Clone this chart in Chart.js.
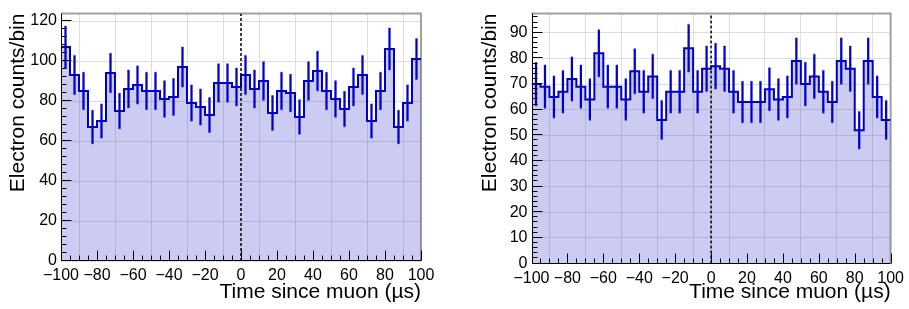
<!DOCTYPE html>
<html>
<head>
<meta charset="utf-8">
<script src="https://cdn.jsdelivr.net/npm/chart.js@4.4.1/dist/chart.umd.min.js"></script>
<style>
  html, body { margin: 0; padding: 0; background: #fff; }
  #wrap { position: relative; width: 909px; height: 309px; }
  canvas { position: absolute; top: 0; }
  #c1 { left: 0; }
  #c2 { left: 455px; }
</style>
</head>
<body>
<div id="wrap">
  <canvas id="c1" width="455" height="309"></canvas>
  <canvas id="c2" width="454" height="309"></canvas>
</div>
<script>
// ---- data ----
const binLowEdges = [-100,-95,-90,-85,-80,-75,-70,-65,-60,-55,-50,-45,-40,-35,-30,-25,-20,-15,-10,-5,
                     0,5,10,15,20,25,30,35,40,45,50,55,60,65,70,75,80,85,90,95];
const binWidth = 5;
const countsLeft  = [107,93,85,67,70,94,75,86,88,85,85,81,82,97,79,77,73,89,89,87,
                     93,86,90,74,85,84,72,90,95,85,81,76,87,93,70,85,106,67,79,101];
const countsRight = [70,69,65,67,72,69,64,82,69,69,64,75,67,73,56,67,67,84,67,76,
                     77,76,67,63,63,63,68,64,65,79,70,73,67,63,79,76,52,79,65,56];
const xTickValues = [-100,-80,-60,-40,-20,0,20,40,60,80,100];
const xTitle = 'Time since muon (\u00b5s)';
const yTitle = 'Electron counts/bin';

const FONT = "'Liberation Sans', Arial, Helvetica, sans-serif";
const LINE = '#0000cc';
const FILL = 'rgba(51,51,204,0.25)';

function histPoints(counts) {
  const pts = counts.map((c, i) => ({x: binLowEdges[i], y: c}));
  pts.push({x: binLowEdges[binLowEdges.length - 1] + binWidth, y: counts[counts.length - 1]});
  return pts;
}
function errBars(counts) {
  return counts.map((c, i) => ({x: binLowEdges[i] + binWidth / 2, y: [c - Math.sqrt(c), c + Math.sqrt(c)]}));
}
function errCaps(counts) {
  const out = [];
  counts.forEach((c, i) => {
    const xc = binLowEdges[i] + binWidth / 2;
    out.push({x: xc, y: c + Math.sqrt(c)});
    out.push({x: xc, y: c - Math.sqrt(c)});
  });
  return out;
}

function rootAxesPlugin(yMinor, yMajor) {
  return {
    id: 'rootAxes',
    beforeDatasetsDraw(chart) {
      const {ctx, chartArea: a} = chart;
      ctx.save();
      ctx.strokeStyle = '#a0a0a0';
      ctx.lineWidth = 2;
      ctx.beginPath();
      ctx.moveTo(a.left, a.top);
      ctx.lineTo(a.right, a.top);
      ctx.lineTo(a.right, a.bottom);
      ctx.stroke();
      ctx.restore();
    },
    afterDatasetsDraw(chart) {
      const {ctx, chartArea: a, scales} = chart;
      const xs = scales.x, ys = scales.y;
      ctx.save();
      ctx.strokeStyle = '#000';
      ctx.lineWidth = 1;
      ctx.beginPath();
      const L = Math.round(a.left) + 0.5, B = Math.round(a.bottom) - 0.5;
      ctx.moveTo(L, a.top);
      ctx.lineTo(L, B);
      ctx.lineTo(a.right, B);
      for (let v = xs.min; v <= xs.max + 1e-9; v += 5) {
        const px = Math.round(xs.getPixelForValue(v)) + 0.5;
        const len = (Math.abs(v) % 20 === 0) ? 10 : 5;
        ctx.moveTo(px, B);
        ctx.lineTo(px, B - len);
      }
      for (let v = 0; v <= ys.max + 1e-9; v += yMinor) {
        const py = Math.round(ys.getPixelForValue(v)) - 0.5;
        const len = (v % yMajor === 0) ? 10 : 5;
        ctx.moveTo(L, py);
        ctx.lineTo(L + len, py);
      }
      ctx.stroke();
      ctx.restore();
    }
  };
}

function makeChart(id, counts, cfg) {
  const ctx = document.getElementById(id);
  return new Chart(ctx, {
    type: 'line',
    data: {
      datasets: [
        { type: 'line', data: errCaps(counts), showLine: false, pointStyle: 'rect',
          pointRadius: 1.3, pointBackgroundColor: 'rgba(40,40,215,0.55)', pointBorderWidth: 0, order: 0 },
        { type: 'bar', data: errBars(counts), backgroundColor: LINE, barThickness: 1.6,
          borderWidth: 0, grouped: false, order: 1 },
        { type: 'line', data: [{x: 0, y: 0}, {x: 0, y: cfg.yMax}], borderColor: '#000',
          borderWidth: 1.5, borderDash: [3, 2], pointRadius: 0, fill: false, order: 2 },
        { type: 'line', data: histPoints(counts), stepped: 'before', borderColor: LINE,
          borderWidth: 2, backgroundColor: FILL, fill: 'origin', pointRadius: 0, order: 3 }
      ]
    },
    options: {
      responsive: false, animation: false, events: [], devicePixelRatio: 1,
      layout: { padding: { left: 0, right: cfg.padRight, top: 5, bottom: 0 } },
      plugins: { legend: { display: false }, tooltip: { enabled: false } },
      scales: {
        x: {
          type: 'linear', min: -100, max: 100, offset: false,
          afterFit(s) { s.height = cfg.xH; },
          afterBuildTicks(s) { s.ticks = xTickValues.map(v => ({value: v})); },
          grid: { color: '#dedede', lineWidth: 1, drawTicks: false },
          border: { display: false },
          ticks: { autoSkip: false, maxRotation: 0, minRotation: 0, padding: 5, color: '#000',
            font: { family: FONT, size: 16 },
            callback: v => (v < 0 ? '\u2212' + Math.abs(v) : String(v)) },
          title: { display: true, text: xTitle, align: 'end', color: '#000',
            font: { family: FONT, size: 21 }, padding: { top: 0, bottom: 4 } }
        },
        y: {
          type: 'linear', min: 0, max: cfg.yMax,
          afterFit(s) { s.width = cfg.yW; },
          grid: { color: '#dedede', lineWidth: 1, drawTicks: false },
          border: { display: false },
          ticks: { stepSize: cfg.yStep, includeBounds: false, padding: 4, color: '#000',
            font: { family: FONT, size: 16 } },
          title: { display: true, text: yTitle, align: 'end', color: '#000',
            font: { family: FONT, size: 21 }, padding: { top: cfg.yTitlePad, bottom: 0 } }
        }
      }
    },
    plugins: [rootAxesPlugin(cfg.yMinor, cfg.yStep)]
  });
}

makeChart('c1', countsLeft, { yMax: 123.7, yStep: 20, yMinor: 4, yW: 61, xH: 48, padRight: 34, yTitlePad: 6 });
makeChart('c2', countsRight, { yMax: 97.5, yStep: 10, yMinor: 2, yW: 76.5, xH: 45.5, padRight: 17.5, yTitlePad: 23 });
</script>
</body>
</html>
